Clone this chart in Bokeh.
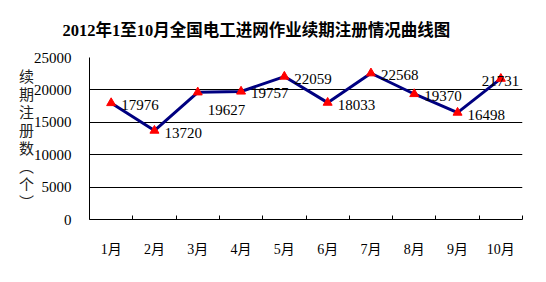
from bokeh.plotting import figure
from bokeh.models import ColumnDataSource, FixedTicker, Range1d
from bokeh.core.properties import value
from bokeh.embed import file_html
from bokeh.resources import INLINE

months = ["1月", "2月", "3月", "4月", "5月", "6月", "7月", "8月", "9月", "10月"]
renewals = [17976, 13720, 19627, 19757, 22059, 18033, 22568, 19370, 16498, 21731]
y_ticks = [0, 5000, 10000, 15000, 20000, 25000]
title_text = "2012年1至10月全国电工进网作业续期注册情况曲线图"
y_title = "续期注册数（个）"

FONT = "Liberation Serif, Noto Sans CJK SC"

xs = list(range(1, len(months) + 1))

# label placement (screen offsets), Excel-like "right" placement with a few adjustments
dx = [10] * len(months)
dy = [2] * len(months)
dy[2] = 18
dx[9] = -19

src = ColumnDataSource(dict(x=xs, y=renewals, lbl=[str(v) for v in renewals], dx=dx, dy=dy))

p = figure(width=546, height=282, output_backend="svg", toolbar_location=None,
           x_range=Range1d(0.5, len(months) + 0.5), y_range=Range1d(0, 25000),
           min_border_left=89, min_border_right=24, min_border_top=56, min_border_bottom=63,
           title=title_text)
p.outline_line_color = None
p.background_fill_color = "white"
p.border_fill_color = "white"

p.title.align = "left"
p.title.offset = -27
p.title.text_font = FONT
p.title.text_font_size = "16.5px"
p.title.text_font_style = "bold"
p.title.text_color = "black"
p.title.standoff = 36
p.title.text_line_height = 0.7

# axes
p.xaxis.ticker = FixedTicker(ticks=xs, minor_ticks=[i + 0.5 for i in range(0, len(months) + 1)])
p.xaxis.major_label_overrides = {i: m for i, m in zip(xs, months)}
p.xaxis.major_tick_line_color = None
p.xaxis.minor_tick_in = 4
p.xaxis.minor_tick_out = 0
p.xaxis.minor_tick_line_color = "black"
p.xaxis.axis_line_color = "black"
p.xaxis.major_label_text_font = FONT
p.xaxis.major_label_text_font_size = "14px"
p.xaxis.major_label_text_color = "black"
p.xaxis.major_label_standoff = 16

p.yaxis.ticker = FixedTicker(ticks=y_ticks)
p.yaxis.major_tick_line_color = None
p.yaxis.minor_tick_line_color = None
p.yaxis.axis_line_color = "black"
p.yaxis.major_label_text_font = FONT
p.yaxis.major_label_text_font_size = "15px"
p.yaxis.major_label_text_color = "black"
p.yaxis.major_label_standoff = 12

vt = "\n".join(["︵" if c == "（" else "︶" if c == "）" else c for c in y_title])
p.yaxis.axis_label = vt
p.yaxis.axis_label_orientation = "horizontal"
p.yaxis.axis_label_text_font = "Noto Sans CJK SC"
p.yaxis.axis_label_text_font_size = "15px"
p.yaxis.axis_label_text_font_style = "normal"
p.yaxis.axis_label_text_color = "#222222"
p.yaxis.axis_label_text_line_height = 0.86
p.yaxis.axis_label_standoff = -3

p.xgrid.grid_line_color = None
p.ygrid.grid_line_color = "black"
p.ygrid.grid_line_alpha = 1.0
p.ygrid.ticker = FixedTicker(ticks=y_ticks)

p.line("x", "y", source=src, line_color="#000080", line_width=3)
p.scatter("x", "y", source=src, marker="triangle", size=9, fill_color="#ff0000", line_color="#ff0000")
p.text("x", "y", text="lbl", source=src, x_offset="dx", y_offset="dy",
       text_font=value(FONT), text_font_size="15px", text_color="black",
       text_baseline="middle", text_align="left")

open("out.html", "w").write(file_html(p, INLINE))
